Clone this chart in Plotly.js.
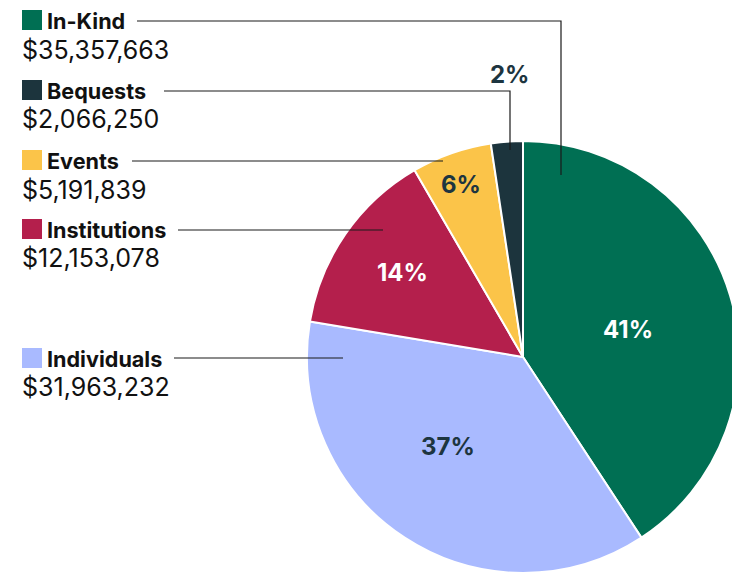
<!DOCTYPE html>
<html>
<head>
<meta charset="utf-8">
<script src="https://cdn.plot.ly/plotly-3.0.1.min.js"></script>
<style>
html,body{margin:0;padding:0;overflow:hidden;background:#fff;}
#chart{width:750px;height:574px;}
</style>
</head>
<body>
<div id="chart"></div>
<script>
// ---- data ----
const categories = ["In-Kind", "Individuals", "Institutions", "Events", "Bequests"];
const values = [35357663, 31963232, 12153078, 5191839, 2066250];
const colors = ["#006f53", "#a9baff", "#b41f4c", "#fbc449", "#1c343d"];
const pctTextColors = ["#ffffff", "#1d3540", "#ffffff", "#1d3540", "#1d3540"];
// legend order (top to bottom on the left)
const legendOrder = ["In-Kind", "Bequests", "Events", "Institutions", "Individuals"];

// ---- layout geometry (pixels) ----
const W = 750, H = 574;
const cx = 523, cy = 357, R = 216;
const legendRows = { // label centre y, amount centre y, leader line start x/y, elbow
  "In-Kind":      {y: 21,  ay: 50,  lx: 137, ly: 21,  ex: 561, ey: 175},
  "Bequests":     {y: 91,  ay: 119, lx: 164, ly: 91,  ex: 510, ey: 150},
  "Events":       {y: 161, ay: 190, lx: 132, ly: 161, ex: 443, ey: null},
  "Institutions": {y: 230, ay: 258, lx: 178, ly: 230, ex: 383, ey: null},
  "Individuals":  {y: 359, ay: 387, lx: 174, ly: 358, ex: 343, ey: null}
};
// label placement: radial fraction and angle offset (deg) relative to slice mid-angle
const labelRadius = [0.50, 0.54, 0.68, 0.85, 1.31];
const labelAngleOffset = [2, 6.7, 0.4, -0.4, 1.7];

const px = x => x / W;
const py = y => 1 - y / H;

const total = values.reduce((a, b) => a + b, 0);
const fmt = v => "$" + v.toLocaleString("en-US");

const shapes = [];
const annotations = [];

legendOrder.forEach(name => {
  const i = categories.indexOf(name);
  const r = legendRows[name];
  shapes.push({type: "rect", xref: "paper", yref: "paper",
    x0: px(22), x1: px(42), y0: py(r.y - 11), y1: py(r.y + 9),
    fillcolor: colors[i], line: {width: 0}});
  annotations.push({xref: "paper", yref: "paper", x: px(45), y: py(r.y),
    xanchor: "left", yanchor: "middle", showarrow: false, text: "<b>" + name + "</b>",
    font: {family: "Inter, 'Liberation Sans', sans-serif", size: 21.6, color: "#111"}});
  annotations.push({xref: "paper", yref: "paper", x: px(20), y: py(r.ay),
    xanchor: "left", yanchor: "middle", showarrow: false, text: fmt(values[i]),
    font: {family: "Inter, 'Liberation Sans', sans-serif", size: 25, color: "#111"}});
  let path = `M ${px(r.lx)} ${py(r.ly)} L ${px(r.ex)} ${py(r.ly)}`;
  if (r.ey !== null) path += ` L ${px(r.ex)} ${py(r.ey)}`;
  shapes.push({type: "path", xref: "paper", yref: "paper", path: path,
    line: {color: "#1a1a1a", width: 1.2}});
});

// percentage labels from the data
let cum = 0;
values.forEach((v, i) => {
  const frac = v / total;
  const mid = (cum + frac / 2) * 360 + labelAngleOffset[i];
  cum += frac;
  const a = mid * Math.PI / 180;
  const x = cx + Math.sin(a) * R * labelRadius[i];
  const y = cy - Math.cos(a) * R * labelRadius[i];
  annotations.push({xref: "paper", yref: "paper", x: px(x), y: py(y),
    xanchor: "center", yanchor: "middle", showarrow: false,
    text: "<b>" + Math.round(frac * 100) + "%</b>",
    font: {family: "Inter, 'Liberation Sans', sans-serif", size: 24, color: pctTextColors[i]}});
});

const trace = {
  type: "pie",
  labels: categories,
  values: values,
  sort: false,
  direction: "clockwise",
  rotation: 0,
  marker: {colors: colors, line: {color: "#ffffff", width: 2}},
  textinfo: "none",
  hoverinfo: "label+value+percent",
  showlegend: false,
  domain: {x: [px(cx - R), px(cx + R)], y: [py(cy + R), py(cy - R)]}
};

const layout = {
  width: W, height: H,
  margin: {l: 0, r: 0, t: 0, b: 0},
  paper_bgcolor: "#fff",
  showlegend: false,
  shapes: shapes,
  annotations: annotations
};

Plotly.newPlot("chart", [trace], layout, {displayModeBar: false, staticPlot: true});
</script>
</body>
</html>
